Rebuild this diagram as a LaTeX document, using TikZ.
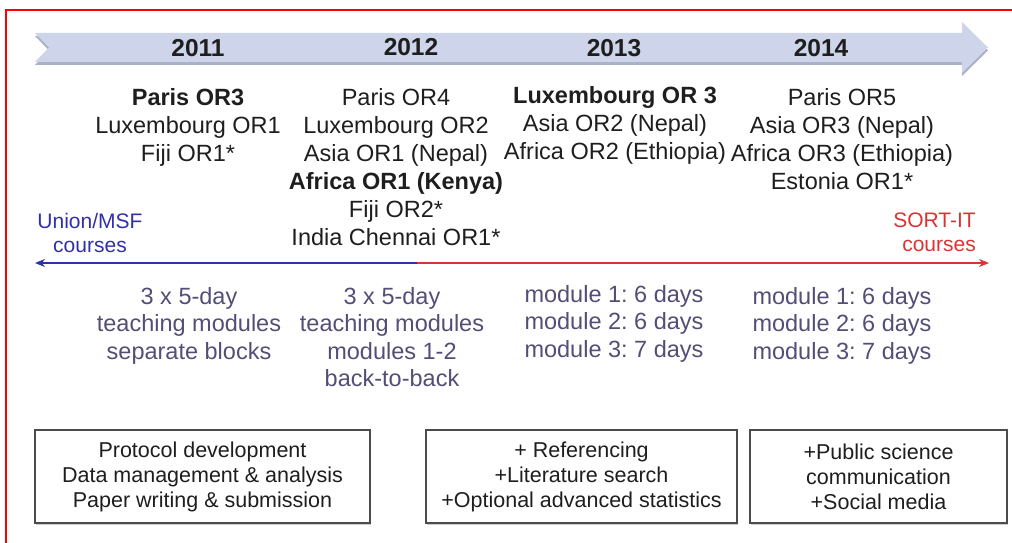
\documentclass[tikz,border=0pt]{standalone}
\usepackage{fontspec}
\setmainfont{Liberation Sans}
\usetikzlibrary{positioning, arrows.meta, shadows}
\frenchspacing

\definecolor{bandblue}{RGB}{206,213,234}
\definecolor{bandshade}{RGB}{172,178,198}
\definecolor{unionblue}{RGB}{48,48,170}
\definecolor{sortred}{RGB}{222,50,50}
\definecolor{modgrey}{RGB}{82,78,118}
\definecolor{textdark}{RGB}{30,30,30}

\begin{document}
\begin{tikzpicture}[
    x=1pt, y=-1pt,
    year/.style={inner sep=0pt, text=textdark, font=\fontsize{24.5}{28}\selectfont\bfseries},
    course/.style={align=center, anchor=north, inner sep=0pt, text=textdark, font=\fontsize{23.5}{28}\selectfont},
    module/.style={course, text=modgrey, font=\fontsize{23.5}{27.5}\selectfont},
    side/.style={anchor=north, inner sep=0pt, font=\fontsize{21}{24}\selectfont},
    topic/.style={rectangle, draw=black!70, line width=1.5pt, fill=white, minimum height=93pt, align=center, inner sep=0pt, text=textdark, font=\fontsize{21.5}{25}\selectfont, drop shadow={shadow xshift=1pt, shadow yshift=-1.5pt, fill=black!40}},
    timeline/.style={line width=2.8pt, -{Stealth[length=10pt, width=8pt]}}
]
\useasboundingbox (0,0) rectangle (1012,543);

% Frame and year band
\draw[red, line width=2.6pt] (6,543) -- (6,10) -- (1012,10);
\fill[bandshade, yshift=-3pt] (35,33) -- (962,33) -- (962,22) -- (988,47.5) -- (962,73) -- (962,62) -- (35,62) -- (49,47.5) -- cycle;
\fill[bandblue] (35,33) -- (962,33) -- (962,22) -- (988,47.5) -- (962,73) -- (962,62) -- (35,62) -- (49,47.5) -- cycle;

% Years
\node (Y2011) [year] at (198,48) {2011};
\node (Y2012) [year] at (411,47) {2012};
\node (Y2013) [year] at (614,48) {2013};
\node (Y2014) [year] at (821,48) {2014};

% Courses per year
\node (Courses2011) [course] at (188,88) {\textbf{Paris OR3}\\Luxembourg OR1\\Fiji OR1*};
\node (Courses2012) [course] at (396,88) {Paris OR4\\Luxembourg OR2\\Asia OR1 (Nepal)\\\textbf{Africa OR1 (Kenya)}\\Fiji OR2*\\India Chennai OR1*};
\node (Courses2013) [course] at (615,86) {\textbf{Luxembourg OR 3}\\Asia OR2 (Nepal)\\Africa OR2 (Ethiopia)};
\node (Courses2014) [course] at (842,88) {Paris OR5\\Asia OR3 (Nepal)\\Africa OR3 (Ethiopia)\\Estonia OR1*};

% Union/MSF vs SORT-IT
\node (UnionMSF) [side, align=center, text=unionblue] at (90,213) {Union/MSF\\courses};
\node (SortIT) [side, align=right, anchor=north east, text=sortred] at (976,213) {SORT-IT\\courses};

\coordinate (tlLeft) at (35,263);
\coordinate (tlMid) at (417,263);
\coordinate (tlRight) at (989,263);
\draw [timeline, unionblue] (tlMid) -- (tlLeft);
\draw [timeline, sortred] (tlMid) -- (tlRight);

% Module formats
\node (Modules2011) [module] at (189,287) {3 x 5-day\\teaching modules\\separate blocks};
\node (Modules2012) [module] at (392,287) {3 x 5-day\\teaching modules\\modules 1-2\\back-to-back};
\node (Modules2013) [module] at (614,285) {module 1: 6 days\\module 2: 6 days\\module 3: 7 days};
\node (Modules2014) [module] at (842,287) {module 1: 6 days\\module 2: 6 days\\module 3: 7 days};

% Curriculum boxes
\node (CoreSkills) [topic, minimum width=335pt] at (202.5,476.5) {Protocol development\\Data management \& analysis\\Paper writing \& submission};
\node (LitSkills) [topic, minimum width=311pt] at (581.5,476.5) {+ Referencing\\+Literature search\\+Optional advanced statistics};
\node (CommSkills) [topic, minimum width=257pt] at (878.5,476.5) {+Public science\\communication\\+Social media};

\end{tikzpicture}
\end{document}
